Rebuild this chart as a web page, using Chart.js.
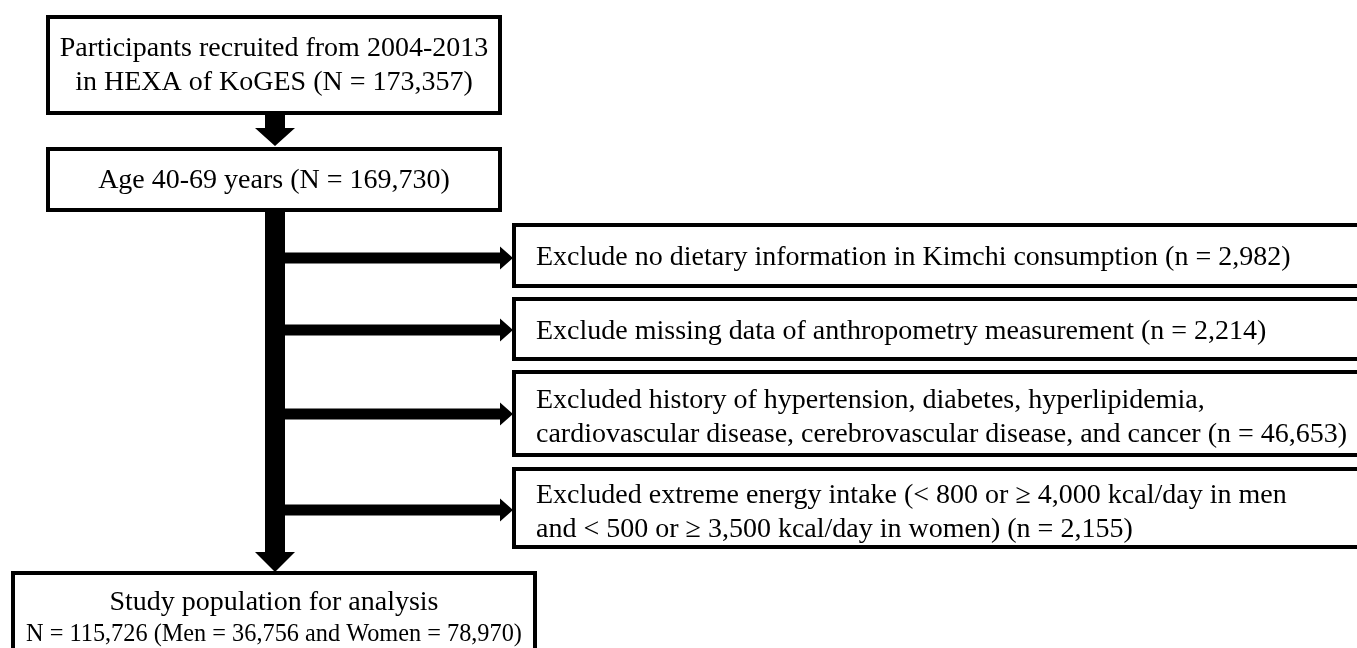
<!DOCTYPE html>
<html>
<head>
<meta charset="UTF-8">
<title>Flow chart</title>
<script src="https://cdn.jsdelivr.net/npm/chart.js@4"></script>
<style>
  html, body { margin: 0; padding: 0; background: #fff; }
  #wrap { width: 1357px; height: 648px; }
</style>
</head>
<body>
<div id="wrap"><canvas id="grafico" width="1357" height="648"></canvas></div>
<script>
// numbers
var stageCounts = [173357, 169730, 115726];
var menCount = 36756;
var womenCount = 78970;
var exclusionCounts = [2982, 2214, 46653, 2155];

// text of each box (count is appended to the last line)
var stageText = [
  ["Participants recruited from 2004-2013", "in HEXA of KoGES"],
  ["Age 40-69 years"],
  ["Study population for analysis"]
];
var exclusionText = [
  ["Exclude no dietary information in Kimchi consumption"],
  ["Exclude missing data of anthropometry measurement"],
  ["Excluded history of hypertension, diabetes, hyperlipidemia,",
   "cardiovascular disease, cerebrovascular disease, and cancer"],
  ["Excluded extreme energy intake (< 800 or \u2265 4,000 kcal/day in men",
   "and < 500 or \u2265 3,500 kcal/day in women)"]
];

function fmt(n) { return n.toLocaleString("en-US"); }

// layout, in scale units (x 0..1357, y 0..648 top-down)
var stageBoxes = [
  { x0: 46, x1: 502, y0: 15, y1: 115, base: [56, 90] },
  { x0: 46, x1: 502, y0: 147, y1: 212, base: [188] },
  { x0: 11, x1: 537, y0: 571, y1: 654, base: [610, 641] }
];
var exclBoxes = [
  { y0: 223, y1: 288, base: [265], arrow: 258 },
  { y0: 297, y1: 361, base: [339], arrow: 330 },
  { y0: 370, y1: 457, base: [408, 442], arrow: 414 },
  { y0: 467, y1: 549, base: [503, 537], arrow: 510 }
];
var spineX = 275, exclX0 = 512, exclX1 = 1364, textLeft = 536;
var FONT = '28px "Liberation Serif", "Times New Roman", serif';
var FONT_SMALL = '24.3px "Liberation Serif", "Times New Roman", serif';

var flowPlugin = {
  id: "flow",
  afterDraw: function(chart) {
    var ctx = chart.ctx;
    var xs = chart.scales.x, ys = chart.scales.y;
    var X = function(v) { return xs.getPixelForValue(v); };
    var Y = function(v) { return ys.getPixelForValue(v); };

    function box(x0, y0, x1, y1) {
      ctx.lineWidth = 4;
      ctx.strokeStyle = "#000";
      ctx.strokeRect(X(x0) + 2, Y(y0) + 2, X(x1) - X(x0) - 4, Y(y1) - Y(y0) - 4);
    }
    function poly(pts) {
      ctx.beginPath();
      ctx.moveTo(X(pts[0][0]), Y(pts[0][1]));
      for (var i = 1; i < pts.length; i++) ctx.lineTo(X(pts[i][0]), Y(pts[i][1]));
      ctx.closePath();
      ctx.fill();
    }

    ctx.save();
    ctx.fillStyle = "#000";

    // arrow between first two boxes
    poly([[spineX - 10, 115], [spineX + 10, 115], [spineX + 10, 128], [spineX + 20, 128],
          [spineX, 146], [spineX - 20, 128], [spineX - 10, 128]]);
    // main spine down to study population
    poly([[spineX - 10, 212], [spineX + 10, 212], [spineX + 10, 552], [spineX + 20, 552],
          [spineX, 572], [spineX - 20, 552], [spineX - 10, 552]]);
    // side arrows
    exclBoxes.forEach(function(b) {
      var y = b.arrow;
      poly([[spineX + 10, y - 5.5], [exclX0 - 12, y - 5.5], [exclX0 - 12, y - 11.5], [exclX0 + 1, y],
            [exclX0 - 12, y + 11.5], [exclX0 - 12, y + 5.5], [spineX + 10, y + 5.5]]);
    });

    // boxes
    stageBoxes.forEach(function(b) { box(b.x0, b.y0, b.x1, b.y1); });
    exclBoxes.forEach(function(b) { box(exclX0, b.y0, exclX1, b.y1); });

    // texts
    ctx.font = FONT;
    ctx.textBaseline = "alphabetic";
    ctx.textAlign = "center";
    stageText.forEach(function(lines, i) {
      var b = stageBoxes[i];
      var out = lines.slice();
      if (i < 2) {
        out[out.length - 1] += " (N = " + fmt(stageCounts[i]) + ")";
      } else {
        out.push("N = " + fmt(stageCounts[i]) + " (Men = " + fmt(menCount) +
                 " and Women = " + fmt(womenCount) + ")");
      }
      var cx = (b.x0 + b.x1) / 2;
      out.forEach(function(t, k) {
        ctx.font = (i === 2 && k === 1) ? FONT_SMALL : FONT;
        ctx.fillText(t, X(cx), Y(b.base[k]));
      });
    });
    ctx.font = FONT;
    ctx.textAlign = "left";
    exclusionText.forEach(function(lines, i) {
      var b = exclBoxes[i];
      var out = lines.slice();
      out[out.length - 1] += " (n = " + fmt(exclusionCounts[i]) + ")";
      out.forEach(function(t, k) { ctx.fillText(t, X(textLeft), Y(b.base[k])); });
    });
    ctx.restore();
  }
};

new Chart(document.getElementById("grafico"), {
  type: "scatter",
  data: { datasets: [{ data: [], pointRadius: 0 }] },
  options: {
    responsive: false,
    animation: false,
    devicePixelRatio: 1,
    layout: { padding: 0 },
    plugins: { legend: { display: false }, tooltip: { enabled: false } },
    scales: {
      x: { type: "linear", min: 0, max: 1357, display: false },
      y: { type: "linear", min: 0, max: 648, reverse: true, display: false }
    }
  },
  plugins: [flowPlugin]
});
</script>
</body>
</html>
